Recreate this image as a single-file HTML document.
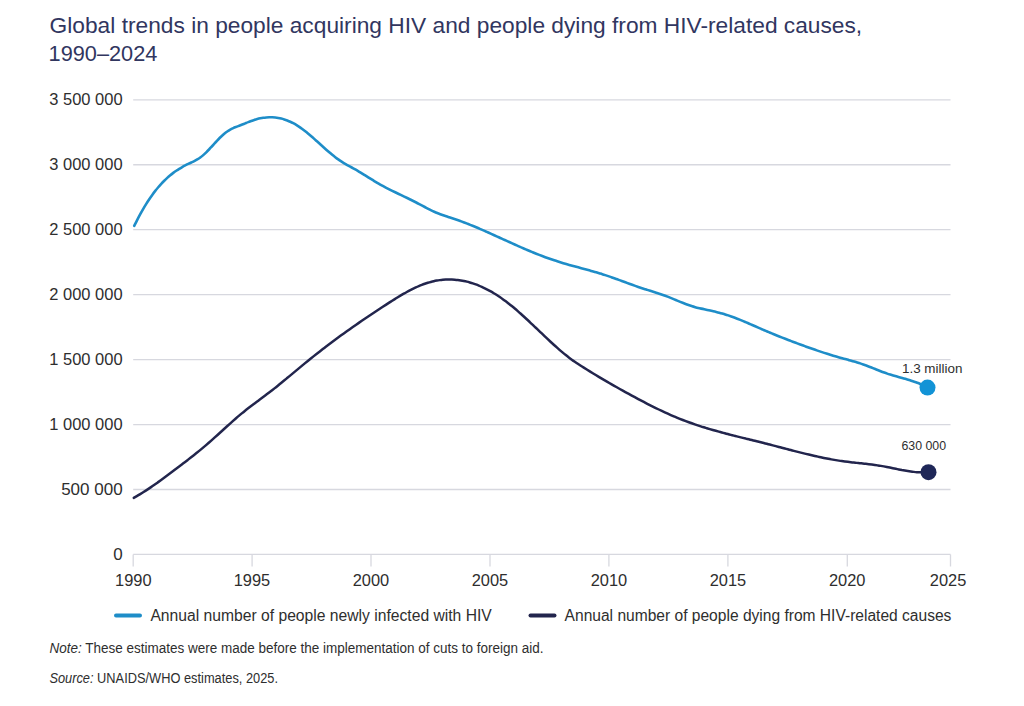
<!DOCTYPE html>
<html lang="en"><head><meta charset="utf-8"><title>Global trends in people acquiring HIV and people dying from HIV-related causes, 1990–2024</title>
<style>html,body{margin:0;padding:0;background:#fff;}body{width:1024px;height:706px;overflow:hidden;}svg{display:block;}</style>
</head><body>
<svg width="1024" height="706" viewBox="0 0 1024 706">
<rect width="1024" height="706" fill="#ffffff"/>
<text x="49.6" y="33.1" font-family="'Liberation Sans', Arial, sans-serif" font-size="22" fill="#31365f" textLength="812.6" lengthAdjust="spacingAndGlyphs">Global trends in people acquiring HIV and people dying from HIV-related causes,</text>
<text x="48.6" y="61" font-family="'Liberation Sans', Arial, sans-serif" font-size="22" fill="#31365f" textLength="108.8" lengthAdjust="spacingAndGlyphs">1990–2024</text>
<line x1="133.2" y1="99.80" x2="950.5" y2="99.80" stroke="#d7d8df" stroke-width="1.3"/>
<line x1="133.2" y1="164.75" x2="950.5" y2="164.75" stroke="#d7d8df" stroke-width="1.3"/>
<line x1="133.2" y1="229.70" x2="950.5" y2="229.70" stroke="#d7d8df" stroke-width="1.3"/>
<line x1="133.2" y1="294.65" x2="950.5" y2="294.65" stroke="#d7d8df" stroke-width="1.3"/>
<line x1="133.2" y1="359.60" x2="950.5" y2="359.60" stroke="#d7d8df" stroke-width="1.3"/>
<line x1="133.2" y1="424.55" x2="950.5" y2="424.55" stroke="#d7d8df" stroke-width="1.3"/>
<line x1="133.2" y1="489.50" x2="950.5" y2="489.50" stroke="#d7d8df" stroke-width="1.3"/>
<line x1="133.2" y1="554.45" x2="950.5" y2="554.45" stroke="#d7d8df" stroke-width="1.3"/>
<line x1="133.2" y1="554.45" x2="133.2" y2="566.5" stroke="#d7d8df" stroke-width="1.3"/>
<line x1="252.1" y1="554.45" x2="252.1" y2="566.5" stroke="#d7d8df" stroke-width="1.3"/>
<line x1="371.0" y1="554.45" x2="371.0" y2="566.5" stroke="#d7d8df" stroke-width="1.3"/>
<line x1="490.0" y1="554.45" x2="490.0" y2="566.5" stroke="#d7d8df" stroke-width="1.3"/>
<line x1="608.9" y1="554.45" x2="608.9" y2="566.5" stroke="#d7d8df" stroke-width="1.3"/>
<line x1="727.9" y1="554.45" x2="727.9" y2="566.5" stroke="#d7d8df" stroke-width="1.3"/>
<line x1="847.3" y1="554.45" x2="847.3" y2="566.5" stroke="#d7d8df" stroke-width="1.3"/>
<line x1="950.5" y1="554.45" x2="950.5" y2="566.5" stroke="#d7d8df" stroke-width="1.3"/>
<text x="122.6" y="105.40" font-family="'Liberation Sans', Arial, sans-serif" font-size="17" fill="#2e2e2e" text-anchor="end" textLength="73.3" lengthAdjust="spacingAndGlyphs">3 500 000</text>
<text x="122.6" y="170.35" font-family="'Liberation Sans', Arial, sans-serif" font-size="17" fill="#2e2e2e" text-anchor="end" textLength="73.3" lengthAdjust="spacingAndGlyphs">3 000 000</text>
<text x="122.6" y="235.30" font-family="'Liberation Sans', Arial, sans-serif" font-size="17" fill="#2e2e2e" text-anchor="end" textLength="73.3" lengthAdjust="spacingAndGlyphs">2 500 000</text>
<text x="122.6" y="300.25" font-family="'Liberation Sans', Arial, sans-serif" font-size="17" fill="#2e2e2e" text-anchor="end" textLength="73.3" lengthAdjust="spacingAndGlyphs">2 000 000</text>
<text x="122.6" y="365.20" font-family="'Liberation Sans', Arial, sans-serif" font-size="17" fill="#2e2e2e" text-anchor="end" textLength="73.3" lengthAdjust="spacingAndGlyphs">1 500 000</text>
<text x="122.6" y="430.15" font-family="'Liberation Sans', Arial, sans-serif" font-size="17" fill="#2e2e2e" text-anchor="end" textLength="73.3" lengthAdjust="spacingAndGlyphs">1 000 000</text>
<text x="122.6" y="495.10" font-family="'Liberation Sans', Arial, sans-serif" font-size="17" fill="#2e2e2e" text-anchor="end">500 000</text>
<text x="122.6" y="560.05" font-family="'Liberation Sans', Arial, sans-serif" font-size="17" fill="#2e2e2e" text-anchor="end">0</text>
<text x="133.35" y="586.1" font-family="'Liberation Sans', Arial, sans-serif" font-size="17" fill="#2e2e2e" text-anchor="middle" textLength="36.5" lengthAdjust="spacingAndGlyphs">1990</text>
<text x="252.0" y="586.1" font-family="'Liberation Sans', Arial, sans-serif" font-size="17" fill="#2e2e2e" text-anchor="middle" textLength="36.5" lengthAdjust="spacingAndGlyphs">1995</text>
<text x="371.0" y="586.1" font-family="'Liberation Sans', Arial, sans-serif" font-size="17" fill="#2e2e2e" text-anchor="middle" textLength="36.5" lengthAdjust="spacingAndGlyphs">2000</text>
<text x="490.0" y="586.1" font-family="'Liberation Sans', Arial, sans-serif" font-size="17" fill="#2e2e2e" text-anchor="middle" textLength="36.5" lengthAdjust="spacingAndGlyphs">2005</text>
<text x="608.9" y="586.1" font-family="'Liberation Sans', Arial, sans-serif" font-size="17" fill="#2e2e2e" text-anchor="middle" textLength="36.5" lengthAdjust="spacingAndGlyphs">2010</text>
<text x="727.9" y="586.1" font-family="'Liberation Sans', Arial, sans-serif" font-size="17" fill="#2e2e2e" text-anchor="middle" textLength="36.5" lengthAdjust="spacingAndGlyphs">2015</text>
<text x="847.2" y="586.1" font-family="'Liberation Sans', Arial, sans-serif" font-size="17" fill="#2e2e2e" text-anchor="middle" textLength="36.5" lengthAdjust="spacingAndGlyphs">2020</text>
<text x="948.1" y="586.1" font-family="'Liberation Sans', Arial, sans-serif" font-size="17" fill="#2e2e2e" text-anchor="middle" textLength="36.5" lengthAdjust="spacingAndGlyphs">2025</text>
<path d="M134.25 225.85C134.75 224.84 136.25 221.75 137.25 219.79C138.25 217.83 139.25 215.94 140.25 214.11C141.25 212.28 142.25 210.51 143.25 208.79C144.25 207.08 145.25 205.43 146.25 203.83C147.25 202.23 148.25 200.69 149.25 199.20C150.25 197.72 151.25 196.29 152.25 194.90C153.25 193.52 154.25 192.20 155.25 190.92C156.25 189.64 157.25 188.42 158.25 187.24C159.25 186.06 160.25 184.93 161.25 183.84C162.25 182.75 163.25 181.71 164.25 180.72C165.25 179.72 166.25 178.77 167.25 177.86C168.25 176.95 169.25 176.08 170.25 175.25C171.25 174.42 172.25 173.63 173.25 172.88C174.25 172.13 175.25 171.42 176.25 170.74C177.25 170.06 178.25 169.41 179.25 168.80C180.25 168.18 181.25 167.60 182.25 167.04C183.25 166.48 184.25 165.95 185.25 165.43C186.25 164.91 187.25 164.42 188.25 163.93C189.25 163.45 190.25 162.99 191.25 162.51C192.25 162.03 193.25 161.57 194.25 161.06C195.25 160.55 196.25 160.03 197.25 159.43C198.25 158.84 199.25 158.22 200.25 157.50C201.25 156.78 202.25 155.99 203.25 155.13C204.25 154.27 205.25 153.32 206.25 152.34C207.25 151.36 208.25 150.31 209.25 149.26C210.25 148.20 211.25 147.09 212.25 146.00C213.25 144.91 214.25 143.80 215.25 142.71C216.25 141.63 217.25 140.54 218.25 139.51C219.25 138.47 220.25 137.45 221.25 136.49C222.25 135.54 223.25 134.62 224.25 133.78C225.25 132.94 226.25 132.16 227.25 131.46C228.25 130.77 229.25 130.17 230.25 129.62C231.25 129.06 232.25 128.60 233.25 128.14C234.25 127.69 235.25 127.30 236.25 126.90C237.25 126.51 238.25 126.14 239.25 125.76C240.25 125.37 241.25 124.98 242.25 124.58C243.25 124.18 244.25 123.76 245.25 123.36C246.25 122.95 247.25 122.53 248.25 122.14C249.25 121.74 250.25 121.35 251.25 120.98C252.25 120.61 253.25 120.25 254.25 119.93C255.25 119.60 256.25 119.30 257.25 119.04C258.25 118.77 259.25 118.53 260.25 118.32C261.25 118.12 262.25 117.94 263.25 117.79C264.25 117.64 265.25 117.53 266.25 117.44C267.25 117.36 268.25 117.31 269.25 117.28C270.25 117.26 271.25 117.27 272.25 117.32C273.25 117.36 274.25 117.44 275.25 117.54C276.25 117.65 277.25 117.79 278.25 117.97C279.25 118.15 280.25 118.35 281.25 118.60C282.25 118.84 283.25 119.12 284.25 119.43C285.25 119.74 286.25 120.09 287.25 120.47C288.25 120.86 289.25 121.27 290.25 121.73C291.25 122.18 292.25 122.67 293.25 123.20C294.25 123.72 295.25 124.29 296.25 124.89C297.25 125.49 298.25 126.13 299.25 126.80C300.25 127.47 301.25 128.18 302.25 128.92C303.25 129.65 304.25 130.43 305.25 131.22C306.25 132.01 307.25 132.83 308.25 133.66C309.25 134.50 310.25 135.36 311.25 136.22C312.25 137.09 313.25 137.98 314.25 138.87C315.25 139.76 316.25 140.67 317.25 141.57C318.25 142.48 319.25 143.39 320.25 144.30C321.25 145.21 322.25 146.12 323.25 147.02C324.25 147.92 325.25 148.81 326.25 149.70C327.25 150.58 328.25 151.45 329.25 152.31C330.25 153.16 331.25 154.00 332.25 154.82C333.25 155.63 334.25 156.43 335.25 157.19C336.25 157.96 337.25 158.70 338.25 159.41C339.25 160.12 340.25 160.79 341.25 161.44C342.25 162.08 343.25 162.69 344.25 163.28C345.25 163.88 346.25 164.45 347.25 165.01C348.25 165.57 349.25 166.12 350.25 166.67C351.25 167.22 352.25 167.76 353.25 168.31C354.25 168.87 355.25 169.42 356.25 169.99C357.25 170.57 358.25 171.16 359.25 171.76C360.25 172.35 361.25 172.96 362.25 173.58C363.25 174.19 364.25 174.82 365.25 175.44C366.25 176.06 367.25 176.70 368.25 177.32C369.25 177.95 370.25 178.58 371.25 179.20C372.25 179.82 373.25 180.44 374.25 181.04C375.25 181.65 376.25 182.25 377.25 182.84C378.25 183.43 379.25 184.00 380.25 184.56C381.25 185.13 382.25 185.68 383.25 186.22C384.25 186.76 385.25 187.28 386.25 187.80C387.25 188.32 388.25 188.83 389.25 189.34C390.25 189.84 391.25 190.34 392.25 190.83C393.25 191.32 394.25 191.81 395.25 192.29C396.25 192.77 397.25 193.25 398.25 193.73C399.25 194.21 400.25 194.69 401.25 195.16C402.25 195.64 403.25 196.11 404.25 196.59C405.25 197.07 406.25 197.55 407.25 198.03C408.25 198.51 409.25 199.00 410.25 199.49C411.25 199.98 412.25 200.47 413.25 200.97C414.25 201.48 415.25 201.98 416.25 202.50C417.25 203.01 418.25 203.54 419.25 204.07C420.25 204.60 421.25 205.13 422.25 205.66C423.25 206.20 424.25 206.73 425.25 207.26C426.25 207.78 427.25 208.31 428.25 208.82C429.25 209.33 430.25 209.83 431.25 210.31C432.25 210.80 433.25 211.27 434.25 211.72C435.25 212.16 436.25 212.59 437.25 213.00C438.25 213.41 439.25 213.79 440.25 214.17C441.25 214.54 442.25 214.90 443.25 215.25C444.25 215.60 445.25 215.94 446.25 216.27C447.25 216.61 448.25 216.93 449.25 217.26C450.25 217.59 451.25 217.91 452.25 218.24C453.25 218.57 454.25 218.90 455.25 219.24C456.25 219.58 457.25 219.93 458.25 220.28C459.25 220.63 460.25 221.00 461.25 221.36C462.25 221.73 463.25 222.11 464.25 222.49C465.25 222.87 466.25 223.25 467.25 223.64C468.25 224.04 469.25 224.43 470.25 224.84C471.25 225.24 472.25 225.65 473.25 226.06C474.25 226.47 475.25 226.89 476.25 227.31C477.25 227.73 478.25 228.16 479.25 228.59C480.25 229.02 481.25 229.45 482.25 229.89C483.25 230.32 484.25 230.76 485.25 231.20C486.25 231.64 487.25 232.09 488.25 232.53C489.25 232.98 490.25 233.43 491.25 233.88C492.25 234.33 493.25 234.78 494.25 235.23C495.25 235.68 496.25 236.13 497.25 236.59C498.25 237.04 499.25 237.50 500.25 237.95C501.25 238.41 502.25 238.86 503.25 239.32C504.25 239.77 505.25 240.23 506.25 240.68C507.25 241.13 508.25 241.59 509.25 242.04C510.25 242.49 511.25 242.94 512.25 243.39C513.25 243.84 514.25 244.29 515.25 244.74C516.25 245.18 517.25 245.63 518.25 246.07C519.25 246.51 520.25 246.95 521.25 247.39C522.25 247.83 523.25 248.27 524.25 248.70C525.25 249.13 526.25 249.56 527.25 249.99C528.25 250.41 529.25 250.83 530.25 251.25C531.25 251.67 532.25 252.08 533.25 252.50C534.25 252.91 535.25 253.31 536.25 253.71C537.25 254.11 538.25 254.51 539.25 254.90C540.25 255.29 541.25 255.68 542.25 256.06C543.25 256.44 544.25 256.82 545.25 257.19C546.25 257.56 547.25 257.92 548.25 258.28C549.25 258.64 550.25 258.99 551.25 259.34C552.25 259.68 553.25 260.02 554.25 260.35C555.25 260.68 556.25 261.01 557.25 261.32C558.25 261.64 559.25 261.95 560.25 262.26C561.25 262.56 562.25 262.86 563.25 263.16C564.25 263.46 565.25 263.75 566.25 264.04C567.25 264.32 568.25 264.61 569.25 264.89C570.25 265.17 571.25 265.45 572.25 265.72C573.25 266.00 574.25 266.27 575.25 266.54C576.25 266.82 577.25 267.09 578.25 267.36C579.25 267.63 580.25 267.90 581.25 268.17C582.25 268.44 583.25 268.71 584.25 268.98C585.25 269.25 586.25 269.52 587.25 269.80C588.25 270.07 589.25 270.35 590.25 270.63C591.25 270.91 592.25 271.19 593.25 271.48C594.25 271.76 595.25 272.05 596.25 272.35C597.25 272.64 598.25 272.94 599.25 273.24C600.25 273.55 601.25 273.85 602.25 274.17C603.25 274.48 604.25 274.80 605.25 275.13C606.25 275.46 607.25 275.79 608.25 276.13C609.25 276.47 610.25 276.82 611.25 277.17C612.25 277.52 613.25 277.87 614.25 278.23C615.25 278.58 616.25 278.95 617.25 279.31C618.25 279.67 619.25 280.04 620.25 280.40C621.25 280.77 622.25 281.14 623.25 281.51C624.25 281.87 625.25 282.24 626.25 282.61C627.25 282.98 628.25 283.35 629.25 283.71C630.25 284.08 631.25 284.44 632.25 284.80C633.25 285.16 634.25 285.52 635.25 285.87C636.25 286.23 637.25 286.58 638.25 286.92C639.25 287.27 640.25 287.61 641.25 287.94C642.25 288.27 643.25 288.60 644.25 288.92C645.25 289.25 646.25 289.56 647.25 289.88C648.25 290.19 649.25 290.50 650.25 290.81C651.25 291.12 652.25 291.43 653.25 291.74C654.25 292.05 655.25 292.37 656.25 292.69C657.25 293.01 658.25 293.33 659.25 293.66C660.25 293.99 661.25 294.33 662.25 294.68C663.25 295.02 664.25 295.38 665.25 295.75C666.25 296.12 667.25 296.50 668.25 296.89C669.25 297.29 670.25 297.69 671.25 298.10C672.25 298.51 673.25 298.92 674.25 299.34C675.25 299.75 676.25 300.18 677.25 300.59C678.25 301.01 679.25 301.43 680.25 301.84C681.25 302.25 682.25 302.65 683.25 303.05C684.25 303.44 685.25 303.83 686.25 304.20C687.25 304.58 688.25 304.94 689.25 305.28C690.25 305.62 691.25 305.95 692.25 306.26C693.25 306.57 694.25 306.85 695.25 307.13C696.25 307.40 697.25 307.66 698.25 307.90C699.25 308.15 700.25 308.38 701.25 308.61C702.25 308.84 703.25 309.06 704.25 309.27C705.25 309.49 706.25 309.70 707.25 309.91C708.25 310.12 709.25 310.33 710.25 310.54C711.25 310.76 712.25 310.97 713.25 311.20C714.25 311.42 715.25 311.65 716.25 311.89C717.25 312.13 718.25 312.38 719.25 312.65C720.25 312.91 721.25 313.19 722.25 313.48C723.25 313.78 724.25 314.08 725.25 314.40C726.25 314.71 727.25 315.04 728.25 315.38C729.25 315.72 730.25 316.07 731.25 316.43C732.25 316.79 733.25 317.16 734.25 317.54C735.25 317.92 736.25 318.31 737.25 318.70C738.25 319.09 739.25 319.49 740.25 319.90C741.25 320.31 742.25 320.72 743.25 321.14C744.25 321.55 745.25 321.98 746.25 322.40C747.25 322.83 748.25 323.26 749.25 323.69C750.25 324.13 751.25 324.56 752.25 325.00C753.25 325.43 754.25 325.87 755.25 326.31C756.25 326.75 757.25 327.19 758.25 327.63C759.25 328.06 760.25 328.50 761.25 328.94C762.25 329.37 763.25 329.81 764.25 330.24C765.25 330.67 766.25 331.09 767.25 331.52C768.25 331.94 769.25 332.36 770.25 332.78C771.25 333.19 772.25 333.61 773.25 334.02C774.25 334.43 775.25 334.84 776.25 335.25C777.25 335.65 778.25 336.05 779.25 336.45C780.25 336.85 781.25 337.25 782.25 337.64C783.25 338.04 784.25 338.43 785.25 338.82C786.25 339.21 787.25 339.60 788.25 339.98C789.25 340.36 790.25 340.75 791.25 341.13C792.25 341.51 793.25 341.88 794.25 342.26C795.25 342.63 796.25 343.01 797.25 343.38C798.25 343.75 799.25 344.12 800.25 344.48C801.25 344.85 802.25 345.22 803.25 345.58C804.25 345.94 805.25 346.30 806.25 346.66C807.25 347.02 808.25 347.38 809.25 347.74C810.25 348.09 811.25 348.45 812.25 348.80C813.25 349.15 814.25 349.50 815.25 349.85C816.25 350.19 817.25 350.54 818.25 350.88C819.25 351.22 820.25 351.56 821.25 351.89C822.25 352.23 823.25 352.56 824.25 352.89C825.25 353.22 826.25 353.54 827.25 353.86C828.25 354.18 829.25 354.49 830.25 354.80C831.25 355.11 832.25 355.42 833.25 355.72C834.25 356.02 835.25 356.32 836.25 356.61C837.25 356.90 838.25 357.18 839.25 357.46C840.25 357.74 841.25 358.01 842.25 358.28C843.25 358.55 844.25 358.81 845.25 359.08C846.25 359.34 847.25 359.61 848.25 359.88C849.25 360.15 850.25 360.41 851.25 360.69C852.25 360.96 853.25 361.24 854.25 361.53C855.25 361.82 856.25 362.11 857.25 362.42C858.25 362.73 859.25 363.04 860.25 363.37C861.25 363.70 862.25 364.05 863.25 364.40C864.25 364.76 865.25 365.13 866.25 365.51C867.25 365.89 868.25 366.27 869.25 366.67C870.25 367.06 871.25 367.46 872.25 367.86C873.25 368.26 874.25 368.66 875.25 369.06C876.25 369.46 877.25 369.87 878.25 370.26C879.25 370.66 880.25 371.05 881.25 371.43C882.25 371.82 883.25 372.19 884.25 372.56C885.25 372.92 886.25 373.27 887.25 373.61C888.25 373.95 889.25 374.27 890.25 374.59C891.25 374.90 892.25 375.20 893.25 375.50C894.25 375.79 895.25 376.08 896.25 376.36C897.25 376.64 898.25 376.92 899.25 377.20C900.25 377.47 901.25 377.75 902.25 378.03C903.25 378.30 904.25 378.58 905.25 378.87C906.25 379.16 907.25 379.44 908.25 379.75C909.25 380.05 910.25 380.35 911.25 380.68C912.25 381.00 913.25 381.33 914.25 381.68C915.25 382.03 916.25 382.39 917.25 382.78C918.25 383.16 919.25 383.56 920.25 383.99C921.25 384.41 922.25 384.86 923.25 385.33C924.25 385.81 925.54 386.47 926.25 386.83C926.96 387.19 927.29 387.39 927.50 387.51" fill="none" stroke="#1e8dc8" stroke-width="2.6" stroke-linejoin="round" stroke-linecap="round"/>
<path d="M133.80 497.85C134.30 497.56 135.80 496.72 136.80 496.13C137.80 495.55 138.80 494.96 139.80 494.35C140.80 493.74 141.80 493.12 142.80 492.49C143.80 491.86 144.80 491.22 145.80 490.58C146.80 489.93 147.80 489.27 148.80 488.60C149.80 487.93 150.80 487.25 151.80 486.57C152.80 485.88 153.80 485.19 154.80 484.49C155.80 483.79 156.80 483.08 157.80 482.37C158.80 481.65 159.80 480.93 160.80 480.21C161.80 479.48 162.80 478.75 163.80 478.02C164.80 477.28 165.80 476.54 166.80 475.80C167.80 475.05 168.80 474.30 169.80 473.55C170.80 472.80 171.80 472.05 172.80 471.29C173.80 470.54 174.80 469.78 175.80 469.02C176.80 468.26 177.80 467.50 178.80 466.74C179.80 465.98 180.80 465.22 181.80 464.46C182.80 463.70 183.80 462.93 184.80 462.17C185.80 461.41 186.80 460.64 187.80 459.87C188.80 459.10 189.80 458.33 190.80 457.55C191.80 456.77 192.80 455.99 193.80 455.20C194.80 454.41 195.80 453.61 196.80 452.81C197.80 452.01 198.80 451.20 199.80 450.38C200.80 449.56 201.80 448.73 202.80 447.89C203.80 447.05 204.80 446.20 205.80 445.35C206.80 444.49 207.80 443.62 208.80 442.75C209.80 441.87 210.80 440.99 211.80 440.10C212.80 439.21 213.80 438.31 214.80 437.41C215.80 436.51 216.80 435.61 217.80 434.70C218.80 433.80 219.80 432.89 220.80 431.98C221.80 431.07 222.80 430.16 223.80 429.25C224.80 428.34 225.80 427.43 226.80 426.53C227.80 425.62 228.80 424.72 229.80 423.82C230.80 422.92 231.80 422.03 232.80 421.14C233.80 420.25 234.80 419.37 235.80 418.50C236.80 417.63 237.80 416.76 238.80 415.91C239.80 415.06 240.80 414.21 241.80 413.38C242.80 412.55 243.80 411.73 244.80 410.93C245.80 410.12 246.80 409.33 247.80 408.55C248.80 407.78 249.80 407.01 250.80 406.25C251.80 405.49 252.80 404.75 253.80 404.00C254.80 403.26 255.80 402.52 256.80 401.78C257.80 401.05 258.80 400.31 259.80 399.58C260.80 398.84 261.80 398.11 262.80 397.36C263.80 396.62 264.80 395.88 265.80 395.12C266.80 394.37 267.80 393.60 268.80 392.83C269.80 392.06 270.80 391.28 271.80 390.50C272.80 389.71 273.80 388.92 274.80 388.12C275.80 387.33 276.80 386.52 277.80 385.71C278.80 384.91 279.80 384.09 280.80 383.28C281.80 382.46 282.80 381.64 283.80 380.81C284.80 379.99 285.80 379.16 286.80 378.33C287.80 377.50 288.80 376.67 289.80 375.84C290.80 375.01 291.80 374.18 292.80 373.34C293.80 372.51 294.80 371.68 295.80 370.84C296.80 370.01 297.80 369.18 298.80 368.35C299.80 367.52 300.80 366.69 301.80 365.87C302.80 365.04 303.80 364.22 304.80 363.40C305.80 362.58 306.80 361.76 307.80 360.95C308.80 360.14 309.80 359.34 310.80 358.53C311.80 357.73 312.80 356.93 313.80 356.14C314.80 355.34 315.80 354.55 316.80 353.77C317.80 352.98 318.80 352.20 319.80 351.42C320.80 350.64 321.80 349.87 322.80 349.09C323.80 348.32 324.80 347.56 325.80 346.79C326.80 346.03 327.80 345.27 328.80 344.51C329.80 343.76 330.80 343.01 331.80 342.26C332.80 341.51 333.80 340.76 334.80 340.02C335.80 339.28 336.80 338.54 337.80 337.81C338.80 337.07 339.80 336.34 340.80 335.61C341.80 334.88 342.80 334.16 343.80 333.44C344.80 332.72 345.80 332.00 346.80 331.28C347.80 330.57 348.80 329.86 349.80 329.15C350.80 328.44 351.80 327.73 352.80 327.03C353.80 326.33 354.80 325.63 355.80 324.93C356.80 324.23 357.80 323.54 358.80 322.85C359.80 322.16 360.80 321.47 361.80 320.78C362.80 320.10 363.80 319.42 364.80 318.74C365.80 318.06 366.80 317.38 367.80 316.70C368.80 316.03 369.80 315.36 370.80 314.69C371.80 314.02 372.80 313.35 373.80 312.69C374.80 312.02 375.80 311.36 376.80 310.70C377.80 310.04 378.80 309.38 379.80 308.73C380.80 308.07 381.80 307.42 382.80 306.77C383.80 306.12 384.80 305.47 385.80 304.83C386.80 304.18 387.80 303.54 388.80 302.90C389.80 302.25 390.80 301.62 391.80 300.98C392.80 300.35 393.80 299.72 394.80 299.10C395.80 298.47 396.80 297.86 397.80 297.25C398.80 296.64 399.80 296.04 400.80 295.44C401.80 294.85 402.80 294.27 403.80 293.70C404.80 293.12 405.80 292.56 406.80 292.01C407.80 291.46 408.80 290.92 409.80 290.40C410.80 289.88 411.80 289.37 412.80 288.87C413.80 288.38 414.80 287.90 415.80 287.43C416.80 286.97 417.80 286.52 418.80 286.09C419.80 285.67 420.80 285.26 421.80 284.87C422.80 284.48 423.80 284.11 424.80 283.76C425.80 283.41 426.80 283.08 427.80 282.77C428.80 282.47 429.80 282.18 430.80 281.92C431.80 281.66 432.80 281.41 433.80 281.19C434.80 280.97 435.80 280.78 436.80 280.60C437.80 280.42 438.80 280.27 439.80 280.13C440.80 280.00 441.80 279.88 442.80 279.79C443.80 279.70 444.80 279.63 445.80 279.58C446.80 279.53 447.80 279.50 448.80 279.50C449.80 279.49 450.80 279.51 451.80 279.54C452.80 279.58 453.80 279.63 454.80 279.71C455.80 279.79 456.80 279.89 457.80 280.01C458.80 280.13 459.80 280.27 460.80 280.43C461.80 280.60 462.80 280.78 463.80 280.98C464.80 281.19 465.80 281.41 466.80 281.66C467.80 281.90 468.80 282.17 469.80 282.46C470.80 282.75 471.80 283.05 472.80 283.38C473.80 283.71 474.80 284.06 475.80 284.43C476.80 284.80 477.80 285.18 478.80 285.59C479.80 286.00 480.80 286.43 481.80 286.88C482.80 287.33 483.80 287.80 484.80 288.28C485.80 288.77 486.80 289.28 487.80 289.81C488.80 290.33 489.80 290.88 490.80 291.45C491.80 292.01 492.80 292.60 493.80 293.20C494.80 293.80 495.80 294.43 496.80 295.07C497.80 295.71 498.80 296.37 499.80 297.05C500.80 297.73 501.80 298.42 502.80 299.14C503.80 299.85 504.80 300.59 505.80 301.34C506.80 302.09 507.80 302.86 508.80 303.65C509.80 304.44 510.80 305.24 511.80 306.06C512.80 306.88 513.80 307.71 514.80 308.56C515.80 309.40 516.80 310.27 517.80 311.14C518.80 312.01 519.80 312.89 520.80 313.79C521.80 314.68 522.80 315.58 523.80 316.50C524.80 317.41 525.80 318.33 526.80 319.25C527.80 320.18 528.80 321.12 529.80 322.06C530.80 322.99 531.80 323.94 532.80 324.89C533.80 325.83 534.80 326.79 535.80 327.74C536.80 328.69 537.80 329.65 538.80 330.60C539.80 331.56 540.80 332.51 541.80 333.47C542.80 334.42 543.80 335.38 544.80 336.32C545.80 337.27 546.80 338.22 547.80 339.16C548.80 340.10 549.80 341.04 550.80 341.97C551.80 342.90 552.80 343.82 553.80 344.73C554.80 345.64 555.80 346.55 556.80 347.44C557.80 348.33 558.80 349.21 559.80 350.08C560.80 350.94 561.80 351.79 562.80 352.63C563.80 353.47 564.80 354.29 565.80 355.09C566.80 355.89 567.80 356.68 568.80 357.44C569.80 358.20 570.80 358.95 571.80 359.67C572.80 360.39 573.80 361.10 574.80 361.79C575.80 362.48 576.80 363.15 577.80 363.81C578.80 364.47 579.80 365.12 580.80 365.76C581.80 366.41 582.80 367.04 583.80 367.67C584.80 368.30 585.80 368.92 586.80 369.54C587.80 370.16 588.80 370.78 589.80 371.39C590.80 372.01 591.80 372.62 592.80 373.23C593.80 373.84 594.80 374.44 595.80 375.04C596.80 375.65 597.80 376.25 598.80 376.84C599.80 377.44 600.80 378.03 601.80 378.62C602.80 379.21 603.80 379.80 604.80 380.39C605.80 380.97 606.80 381.55 607.80 382.13C608.80 382.71 609.80 383.29 610.80 383.87C611.80 384.44 612.80 385.01 613.80 385.58C614.80 386.15 615.80 386.72 616.80 387.28C617.80 387.85 618.80 388.41 619.80 388.97C620.80 389.53 621.80 390.09 622.80 390.64C623.80 391.20 624.80 391.75 625.80 392.30C626.80 392.85 627.80 393.40 628.80 393.95C629.80 394.50 630.80 395.04 631.80 395.58C632.80 396.13 633.80 396.67 634.80 397.20C635.80 397.74 636.80 398.28 637.80 398.81C638.80 399.34 639.80 399.87 640.80 400.40C641.80 400.93 642.80 401.45 643.80 401.97C644.80 402.49 645.80 403.01 646.80 403.52C647.80 404.04 648.80 404.55 649.80 405.05C650.80 405.56 651.80 406.06 652.80 406.56C653.80 407.06 654.80 407.55 655.80 408.04C656.80 408.53 657.80 409.02 658.80 409.50C659.80 409.98 660.80 410.45 661.80 410.92C662.80 411.39 663.80 411.86 664.80 412.32C665.80 412.78 666.80 413.24 667.80 413.69C668.80 414.14 669.80 414.58 670.80 415.02C671.80 415.46 672.80 415.89 673.80 416.32C674.80 416.74 675.80 417.16 676.80 417.58C677.80 417.99 678.80 418.40 679.80 418.80C680.80 419.20 681.80 419.59 682.80 419.98C683.80 420.37 684.80 420.75 685.80 421.12C686.80 421.50 687.80 421.87 688.80 422.23C689.80 422.59 690.80 422.95 691.80 423.30C692.80 423.65 693.80 424.00 694.80 424.34C695.80 424.68 696.80 425.02 697.80 425.35C698.80 425.68 699.80 426.00 700.80 426.32C701.80 426.65 702.80 426.96 703.80 427.27C704.80 427.59 705.80 427.89 706.80 428.20C707.80 428.50 708.80 428.80 709.80 429.09C710.80 429.39 711.80 429.68 712.80 429.97C713.80 430.26 714.80 430.54 715.80 430.82C716.80 431.10 717.80 431.38 718.80 431.66C719.80 431.93 720.80 432.20 721.80 432.47C722.80 432.74 723.80 433.01 724.80 433.28C725.80 433.54 726.80 433.80 727.80 434.06C728.80 434.32 729.80 434.58 730.80 434.84C731.80 435.09 732.80 435.35 733.80 435.60C734.80 435.85 735.80 436.11 736.80 436.36C737.80 436.61 738.80 436.86 739.80 437.10C740.80 437.35 741.80 437.60 742.80 437.85C743.80 438.09 744.80 438.34 745.80 438.59C746.80 438.83 747.80 439.08 748.80 439.32C749.80 439.57 750.80 439.81 751.80 440.06C752.80 440.31 753.80 440.55 754.80 440.80C755.80 441.04 756.80 441.29 757.80 441.54C758.80 441.79 759.80 442.04 760.80 442.29C761.80 442.54 762.80 442.79 763.80 443.04C764.80 443.29 765.80 443.55 766.80 443.80C767.80 444.06 768.80 444.31 769.80 444.57C770.80 444.83 771.80 445.09 772.80 445.35C773.80 445.61 774.80 445.87 775.80 446.13C776.80 446.40 777.80 446.66 778.80 446.92C779.80 447.18 780.80 447.45 781.80 447.71C782.80 447.97 783.80 448.23 784.80 448.50C785.80 448.76 786.80 449.02 787.80 449.28C788.80 449.54 789.80 449.80 790.80 450.06C791.80 450.32 792.80 450.58 793.80 450.84C794.80 451.10 795.80 451.36 796.80 451.61C797.80 451.87 798.80 452.12 799.80 452.37C800.80 452.62 801.80 452.87 802.80 453.12C803.80 453.37 804.80 453.62 805.80 453.86C806.80 454.10 807.80 454.34 808.80 454.58C809.80 454.82 810.80 455.06 811.80 455.29C812.80 455.52 813.80 455.75 814.80 455.98C815.80 456.20 816.80 456.43 817.80 456.65C818.80 456.86 819.80 457.08 820.80 457.29C821.80 457.50 822.80 457.71 823.80 457.92C824.80 458.12 825.80 458.32 826.80 458.52C827.80 458.71 828.80 458.90 829.80 459.09C830.80 459.27 831.80 459.45 832.80 459.63C833.80 459.81 834.80 459.98 835.80 460.14C836.80 460.31 837.80 460.47 838.80 460.62C839.80 460.78 840.80 460.93 841.80 461.07C842.80 461.21 843.80 461.35 844.80 461.48C845.80 461.61 846.80 461.74 847.80 461.86C848.80 461.98 849.80 462.10 850.80 462.22C851.80 462.33 852.80 462.44 853.80 462.55C854.80 462.66 855.80 462.77 856.80 462.88C857.80 462.98 858.80 463.09 859.80 463.19C860.80 463.30 861.80 463.41 862.80 463.52C863.80 463.62 864.80 463.73 865.80 463.85C866.80 463.96 867.80 464.07 868.80 464.19C869.80 464.31 870.80 464.43 871.80 464.56C872.80 464.69 873.80 464.82 874.80 464.95C875.80 465.09 876.80 465.24 877.80 465.39C878.80 465.54 879.80 465.69 880.80 465.86C881.80 466.03 882.80 466.20 883.80 466.38C884.80 466.57 885.80 466.76 886.80 466.95C887.80 467.15 888.80 467.35 889.80 467.55C890.80 467.76 891.80 467.97 892.80 468.17C893.80 468.38 894.80 468.59 895.80 468.80C896.80 469.00 897.80 469.21 898.80 469.41C899.80 469.61 900.80 469.81 901.80 470.01C902.80 470.20 903.80 470.38 904.80 470.56C905.80 470.74 906.80 470.91 907.80 471.07C908.80 471.22 909.80 471.37 910.80 471.51C911.80 471.64 912.80 471.76 913.80 471.87C914.80 471.97 915.80 472.07 916.80 472.14C917.80 472.21 918.80 472.27 919.80 472.30C920.80 472.34 921.80 472.35 922.80 472.35C923.80 472.34 924.85 472.31 925.80 472.26C926.75 472.21 928.05 472.08 928.50 472.05" fill="none" stroke="#22254d" stroke-width="2.5" stroke-linejoin="round" stroke-linecap="round"/>
<circle cx="927.5" cy="387.6" r="8" fill="#1293d6"/>
<circle cx="928.5" cy="472.2" r="8" fill="#1f2758"/>
<text x="932.2" y="373.3" font-family="'Liberation Sans', Arial, sans-serif" font-size="13.5" fill="#2e2e2e" text-anchor="middle" textLength="60.5" lengthAdjust="spacingAndGlyphs">1.3 million</text>
<text x="923.8" y="449.7" font-family="'Liberation Sans', Arial, sans-serif" font-size="13.5" fill="#2e2e2e" text-anchor="middle" textLength="44.6" lengthAdjust="spacingAndGlyphs">630 000</text>
<line x1="116" y1="615.6" x2="140" y2="615.6" stroke="#1e8dc8" stroke-width="4" stroke-linecap="round"/>
<text x="150.4" y="621" font-family="'Liberation Sans', Arial, sans-serif" font-size="16" fill="#2e2e2e" textLength="341.4" lengthAdjust="spacingAndGlyphs">Annual number of people newly infected with HIV</text>
<line x1="530.5" y1="615.6" x2="554.5" y2="615.6" stroke="#22254d" stroke-width="4" stroke-linecap="round"/>
<text x="564.6" y="621" font-family="'Liberation Sans', Arial, sans-serif" font-size="16" fill="#2e2e2e" textLength="386.8" lengthAdjust="spacingAndGlyphs">Annual number of people dying from HIV-related causes</text>
<text x="49.4" y="652.5" font-family="'Liberation Sans', Arial, sans-serif" font-size="14" fill="#2e2e2e" textLength="494.2" lengthAdjust="spacingAndGlyphs"><tspan font-style="italic">Note:</tspan> These estimates were made before the implementation of cuts to foreign aid.</text>
<text x="49.4" y="683.1" font-family="'Liberation Sans', Arial, sans-serif" font-size="14" fill="#2e2e2e" textLength="228.6" lengthAdjust="spacingAndGlyphs"><tspan font-style="italic">Source:</tspan> UNAIDS/WHO estimates, 2025.</text>
</svg>
</body></html>
